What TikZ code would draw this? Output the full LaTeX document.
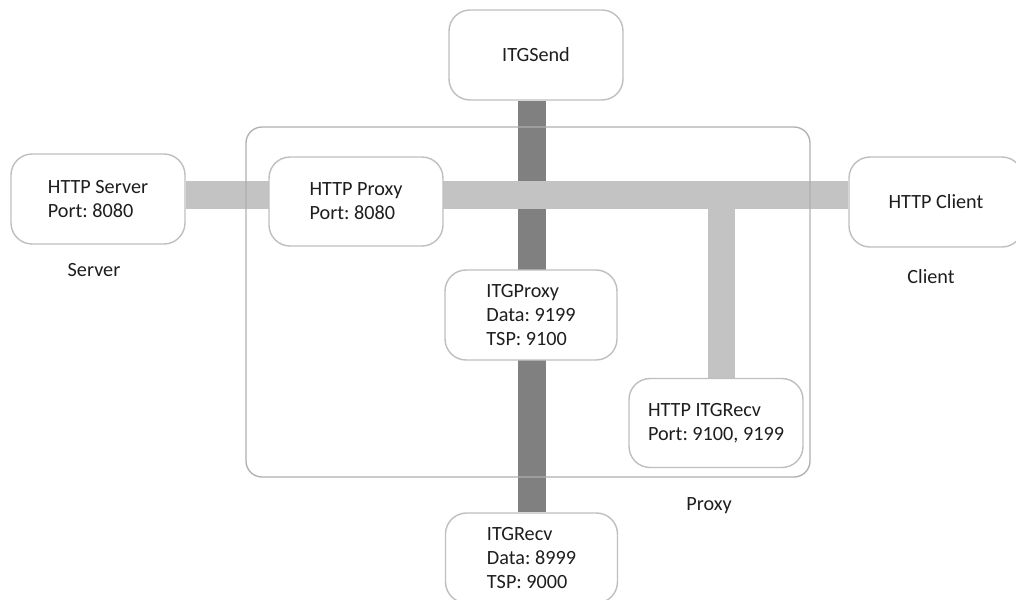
\documentclass[tikz,border=0pt]{standalone}
\usepackage{fontspec}
\setmainfont{Carlito}
\frenchspacing
\usetikzlibrary{backgrounds}

\definecolor{boxline}{HTML}{BFBFBF}
\definecolor{frameline}{HTML}{AFAFAF}
\definecolor{darkpipe}{HTML}{808080}
\definecolor{lightpipe}{HTML}{C3C3C3}
\definecolor{txt}{HTML}{1E1E1E}

\tikzset{
  boxnode/.style={draw=boxline,line width=0.8pt,fill=white,rounded corners=0.42cm,
    minimum width=3.48cm,minimum height=1.8cm,inner sep=0pt,align=left,text=txt,
    font=\fontsize{11.5}{13.6}\selectfont},
  lbl/.style={text=txt,font=\fontsize{11.5}{13.6}\selectfont},
  darkbar/.style={darkpipe,line width=0.56cm},
  lightbar/.style={lightpipe,line width=0.55cm}
}

\begin{document}
\begin{tikzpicture}[x=0.02cm,y=-0.02cm]
          \useasboundingbox (0,0) rectangle (1016,599);
          % hosts and processes
          \node[boxnode] (itgsend) at (536,55) {ITGSend};
          \node[boxnode] (server) at (98,199) {HTTP Server\\Port: 8080};
          \node[boxnode,minimum height=1.78cm] (httpproxy) at (356,201.5) {HTTP Proxy\\Port: 8080};
          \node[boxnode] (client) at (936,202) {HTTP Client};
          \node[boxnode,minimum width=3.44cm] (itgproxy) at (531,315) {ITGProxy\\Data: 9199\\TSP: 9100};
          \node[boxnode,minimum height=1.78cm] (httpitgrecv) at (716,423) {HTTP ITGRecv\\Port: 9100, 9199};
          \node[boxnode,minimum width=3.44cm] (itgrecv) at (531.5,558) {ITGRecv\\Data: 8999\\TSP: 9000};
          % machine names
          \node[lbl] (servername) at (94,270) {Server};
          \node[lbl] (clientname) at (931,277) {Client};
          \node[lbl] (proxyname) at (709,506) {Proxy};
          \coordinate (bus) at (0,195);
          \coordinate (tap) at (721.5,195);
          \begin{scope}[on background layer]
            \draw[darkbar] (itgrecv.north |- itgsend.south) -- (itgrecv.north);
            \draw[lightbar] (server.east |- bus) -- (client.west |- bus);
            \draw[lightbar] (tap) -- (tap |- httpitgrecv.north);
            % proxy machine
            \draw[frameline,line width=0.75pt,rounded corners=0.32cm] (246,127) rectangle (810,477);
          \end{scope}
        \end{tikzpicture}
\end{document}
